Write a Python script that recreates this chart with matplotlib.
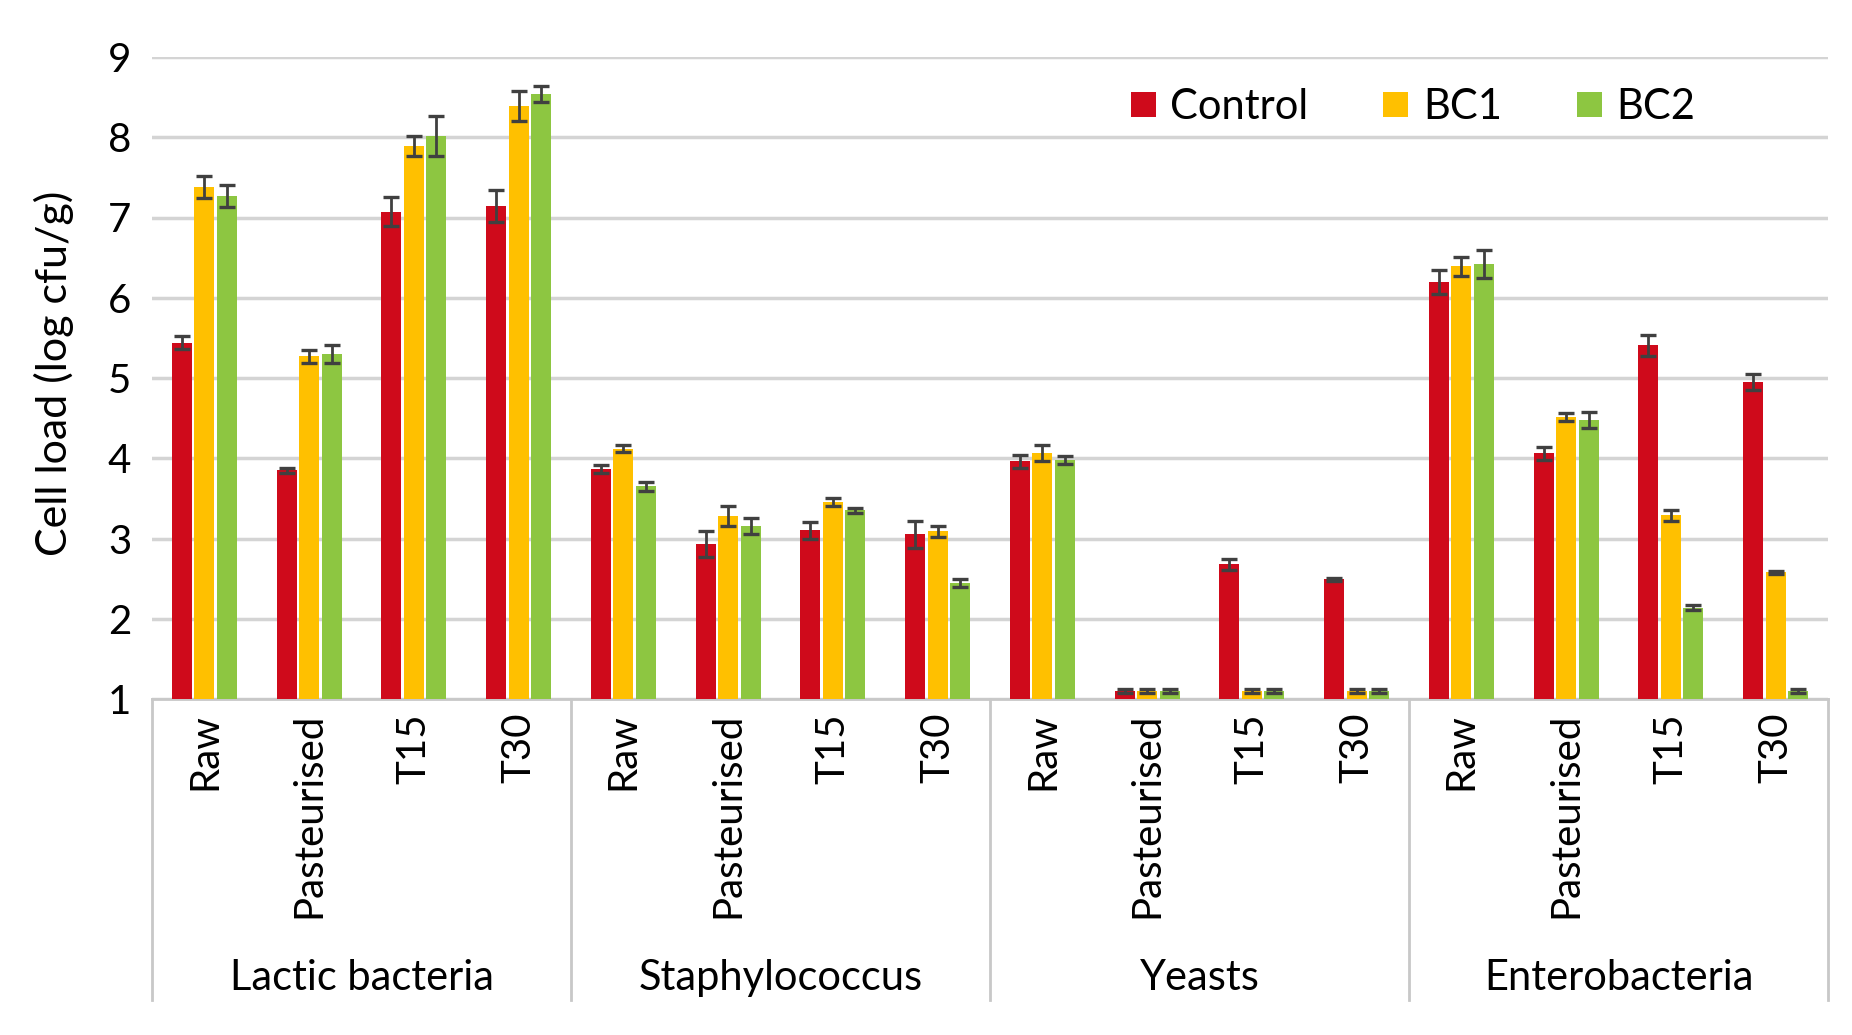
import matplotlib
matplotlib.use("Agg")
import matplotlib.pyplot as plt
import matplotlib.transforms as mtransforms
import numpy as np

groups = ["Lactic bacteria", "Staphylococcus", "Yeasts", "Enterobacteria"]
stages = ["Raw", "Pasteurised", "T15", "T30"]
series_names = ["Control", "BC1", "BC2"]

control = [5.44, 3.85, 7.07, 7.14, 3.87, 2.93, 3.10, 3.05, 3.96, 1.10, 2.68, 2.49, 6.20, 4.06, 5.41, 4.95]
control_err = [0.08, 0.03, 0.18, 0.20, 0.05, 0.16, 0.10, 0.17, 0.08, 0.02, 0.07, 0.02, 0.15, 0.08, 0.13, 0.10]
bc1 = [7.38, 5.27, 7.89, 8.39, 4.12, 3.28, 3.46, 3.09, 4.07, 1.10, 1.10, 1.10, 6.39, 4.52, 3.29, 2.58]
bc1_err = [0.14, 0.08, 0.12, 0.19, 0.04, 0.13, 0.05, 0.07, 0.10, 0.02, 0.02, 0.02, 0.12, 0.05, 0.07, 0.02]
bc2 = [7.27, 5.30, 8.02, 8.54, 3.65, 3.16, 3.35, 2.45, 3.98, 1.10, 1.10, 1.10, 6.42, 4.48, 2.14, 1.10]
bc2_err = [0.14, 0.11, 0.25, 0.10, 0.06, 0.10, 0.03, 0.05, 0.05, 0.02, 0.02, 0.02, 0.18, 0.10, 0.03, 0.02]

colors = ["#CF0A1B", "#FFC000", "#8DC641"]
yticks = [1, 2, 3, 4, 5, 6, 7, 8, 9]

plt.rcParams['font.family'] = ['Lato', 'DejaVu Sans']
FS = 29

W, H = 1852, 1035
fig = plt.figure(figsize=(W / 100, H / 100), dpi=100)
fig.patch.set_facecolor("white")
left, right, top, bottom = 152, 1828, 57, 699
ax = fig.add_axes([left / W, 1 - bottom / H, (right - left) / W, (bottom - top) / H])

n = len(groups) * len(stages)
x = np.arange(n)
width = 0.19
offs = [-0.215, 0.0, 0.215]
vals = [control, bc1, bc2]
errs = [control_err, bc1_err, bc2_err]

for i in range(3):
    ax.bar(x + offs[i], vals[i], width=width, color=colors[i], label=series_names[i], zorder=3)
    ax.errorbar(x + offs[i], vals[i], yerr=errs[i], fmt="none", ecolor="#404040",
                elinewidth=2, capsize=5.5, capthick=2.4, zorder=4)

ax.set_xlim(-0.5, n - 0.5)
ax.set_ylim(1, 9)
ax.set_yticks(yticks)
ax.set_yticklabels([str(v) for v in yticks], fontsize=FS)
ax.yaxis.grid(True, color="#D4D4D4", linewidth=2.5, zorder=0)
ax.set_axisbelow(True)
ax.tick_params(axis="y", length=0, pad=15)
ax.tick_params(axis="x", length=0, pad=10)

ax.set_xticks(x)
ax.set_xticklabels(stages * len(groups), rotation=90, fontsize=FS)

for s in ["left", "right", "top"]:
    ax.spines[s].set_visible(False)
ax.spines["bottom"].set_color("#C8C8C8")
ax.spines["bottom"].set_linewidth(2)

trans = mtransforms.blended_transform_factory(ax.transData, ax.transAxes)
sep_bottom = -(1000 - bottom) / (bottom - top)
for b in np.arange(len(groups) + 1) * len(stages) - 0.5:
    ax.plot([b, b], [0, sep_bottom], transform=trans, color="#C8C8C8", linewidth=2, clip_on=False)

lab_y = -(978 - bottom) / (bottom - top)
for gi, g in enumerate(groups):
    ax.text(gi * len(stages) + (len(stages) - 1) / 2, lab_y, g, transform=trans,
            ha="center", va="center", fontsize=FS + 1)

fig.text(54 / W, 1 - 373 / H, "Cell load (log cfu/g)", rotation=90, ha="center", va="center", fontsize=FS + 2)

leg = ax.legend(loc="center", bbox_to_anchor=(1413 / W, 1 - 107 / H), bbox_transform=fig.transFigure,
                ncol=3, frameon=False, fontsize=FS + 1, handlelength=0.6, handleheight=0.55,
                handletextpad=0.35, columnspacing=1.8, borderpad=0)

fig.savefig("out.png", dpi=100, facecolor="white")
